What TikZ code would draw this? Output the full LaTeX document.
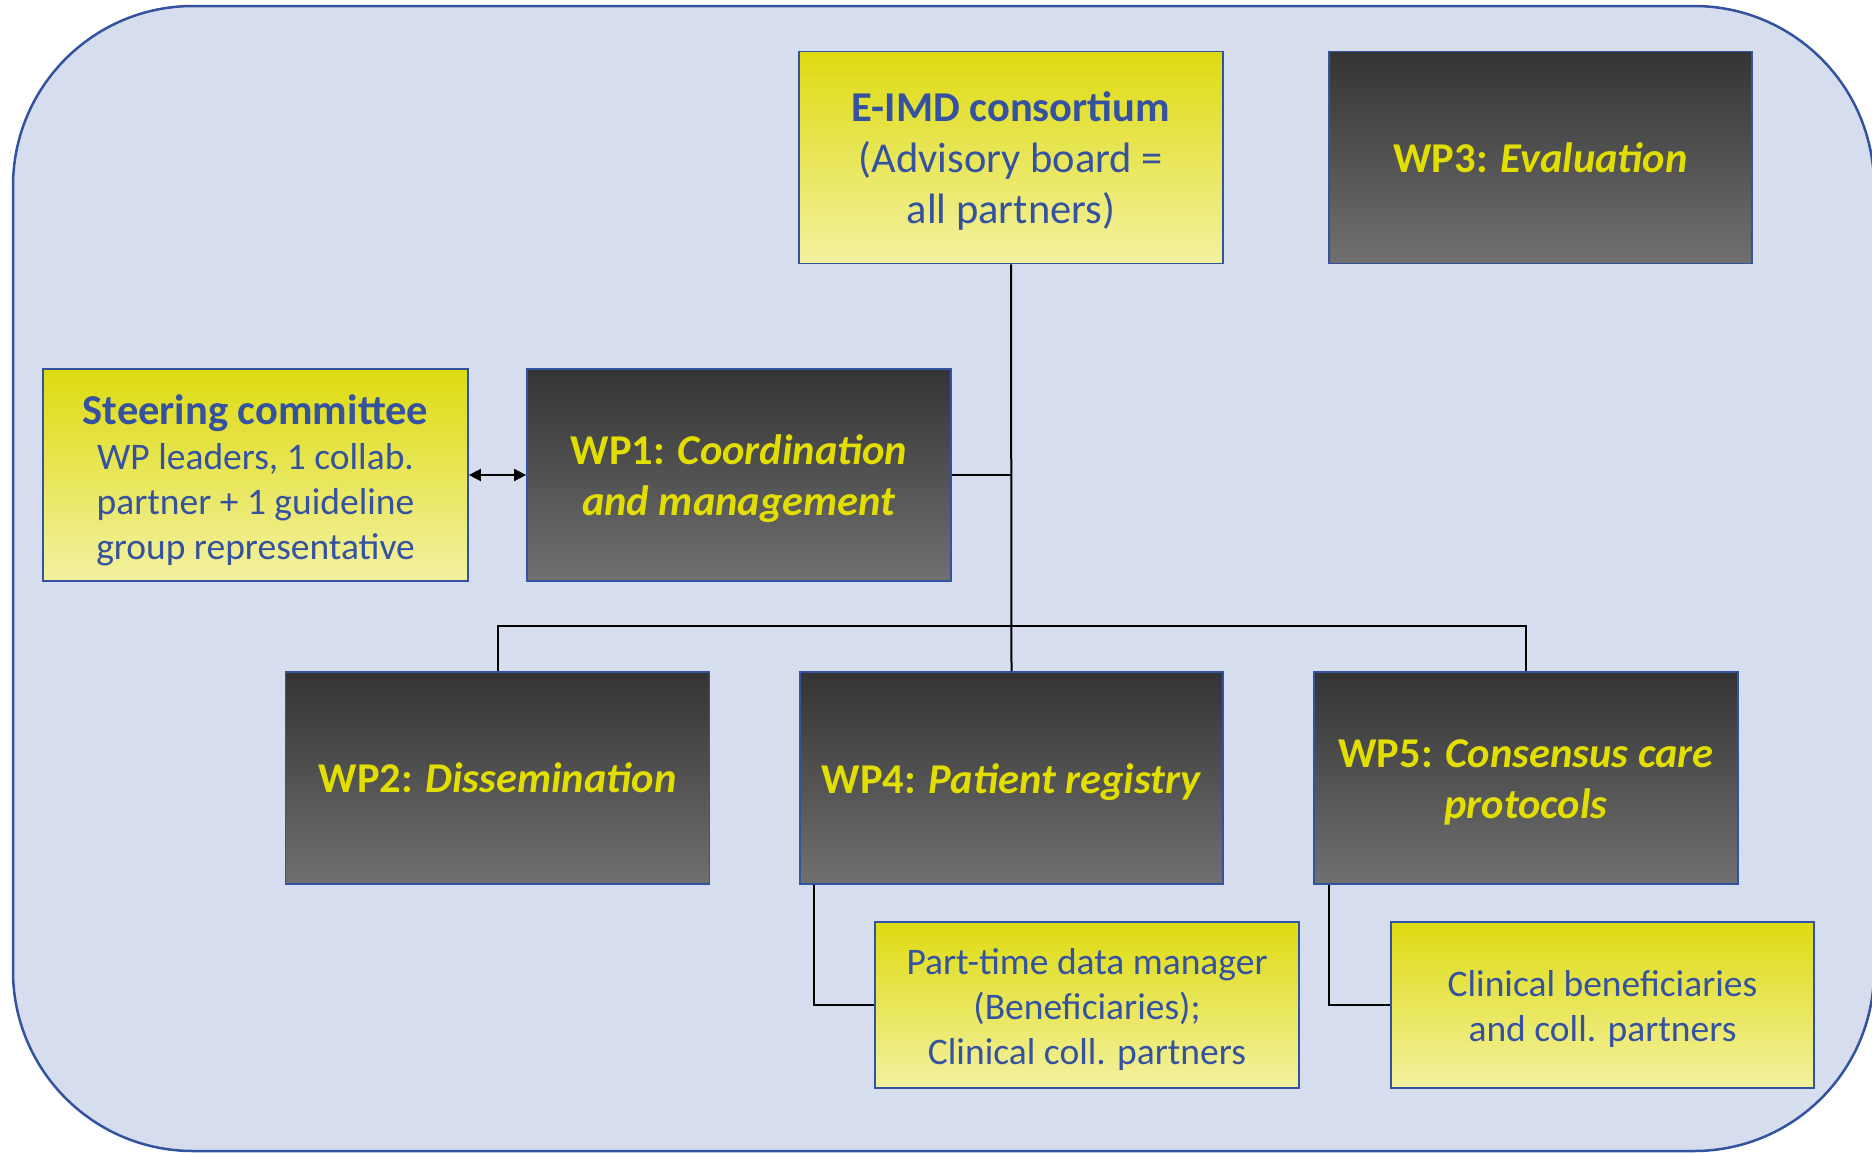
\documentclass[tikz,border=0pt]{standalone}
\usepackage{fontspec}
\setmainfont{Carlito}
\usetikzlibrary{arrows.meta}
\definecolor{frameblue}{RGB}{50,84,160}
\definecolor{bgblue}{RGB}{214,221,238}
\definecolor{txtblue}{RGB}{52,82,160}
\definecolor{ytop}{RGB}{222,219,18}
\definecolor{ybot}{RGB}{243,241,160}
\definecolor{gtop}{RGB}{52,52,52}
\definecolor{gbot}{RGB}{112,112,112}
\definecolor{wpyellow}{RGB}{226,222,0}
\begin{document}
\begin{tikzpicture}[x=1pt,y=-1pt,
  box/.style={draw=frameblue, line width=1.8pt, inner sep=0pt, align=center,
    minimum width=424pt, minimum height=212pt},
  ybox/.style={box, top color=ytop, bottom color=ybot},
  sbox/.style={box, top color=ytop, bottom color=ybot, minimum height=166pt},
  dbox/.style={box, top color=gtop, bottom color=gbot},
  lbl/.style={inner sep=0pt, align=center},
  bigblue/.style={lbl, text=txtblue, font=\fontsize{42.5}{51}\selectfont},
  smallblue/.style={lbl, text=txtblue, font=\fontsize{37.5}{45}\selectfont},
  wptext/.style={lbl, text=wpyellow, font=\fontsize{42.5}{51}\selectfont\bfseries},
  conn/.style={draw=black, line width=2pt}]
\useasboundingbox (0,0) rectangle (1872,1152);
\draw[frameblue, line width=2.5pt, fill=bgblue, rounded corners=180pt] (13,6) rectangle (1874,1151);

\node[ybox] (eimd) at (1011,157.5) {};
\node[bigblue] (eimdt) at ([yshift=-3pt]eimd.center) {\textbf{E-IMD consortium}\\(Advisory board =\\all partners)};
\node[dbox, minimum width=423pt] (wp3) at (1540.5,157.5) {};
\node[wptext] (wp3t) at ([yshift=0pt]wp3.center) {WP3: \textit{Evaluation}};
\node[ybox, minimum width=425pt] (steer) at (255.5,475) {};
\node[smallblue] (steert) at ([yshift=-5pt]steer.center)
  {{\fontsize{42.5}{48}\selectfont\textbf{Steering committee}}\\WP leaders, 1 collab.\\partner + 1 guideline\\group representative};
\node[dbox] (wp1) at (739,475) {};
\node[wptext] (wp1t) at ([yshift=-4pt]wp1.center) {WP1: \textit{Coordination}\\\textit{and management}};
\node[dbox] (wp2) at (497.5,778) {};
\node[wptext] (wp2t) at ([yshift=0pt]wp2.center) {WP2: \textit{Dissemination}};
\node[dbox, minimum width=423pt] (wp4) at (1011.5,778) {};
\node[wptext] (wp4t) at ([yshift=-4pt]wp4.center) {WP4: \textit{Patient registry}};
\node[dbox] (wp5) at (1526,778) {};
\node[wptext] (wp5t) at ([yshift=-4pt]wp5.center) {WP5: \textit{Consensus care}\\\textit{protocols}};
\node[sbox] (ptm) at (1087,1005) {};
\node[smallblue] (ptmt) at ([yshift=-4pt]ptm.center) {Part-time data manager\\(Beneficiaries);\\Clinical coll. partners};
\node[sbox, minimum width=423pt] (clin) at (1602.5,1005) {};
\node[smallblue] (clint) at ([yshift=-4pt]clin.center) {Clinical beneficiaries\\and coll. partners};

\coordinate (bus) at (0,626);
\draw[conn] (eimd.south) -- (wp4.north);
\draw[conn] (wp1.east) -- (wp1.east -| eimd.south);
\draw[conn] (wp2.north) -- (wp2.north |- bus) -- (wp5.north |- bus) -- (wp5.north);
\draw[conn] ([xshift=15pt]wp4.south west) |- (ptm.west);
\draw[conn] ([xshift=16pt]wp5.south west) |- (clin.west);
\draw[line width=2pt, {Triangle[length=12pt,width=12pt]}-{Triangle[length=12pt,width=12pt]}] (steer.east) -- (wp1.west);
\end{tikzpicture}
\end{document}
